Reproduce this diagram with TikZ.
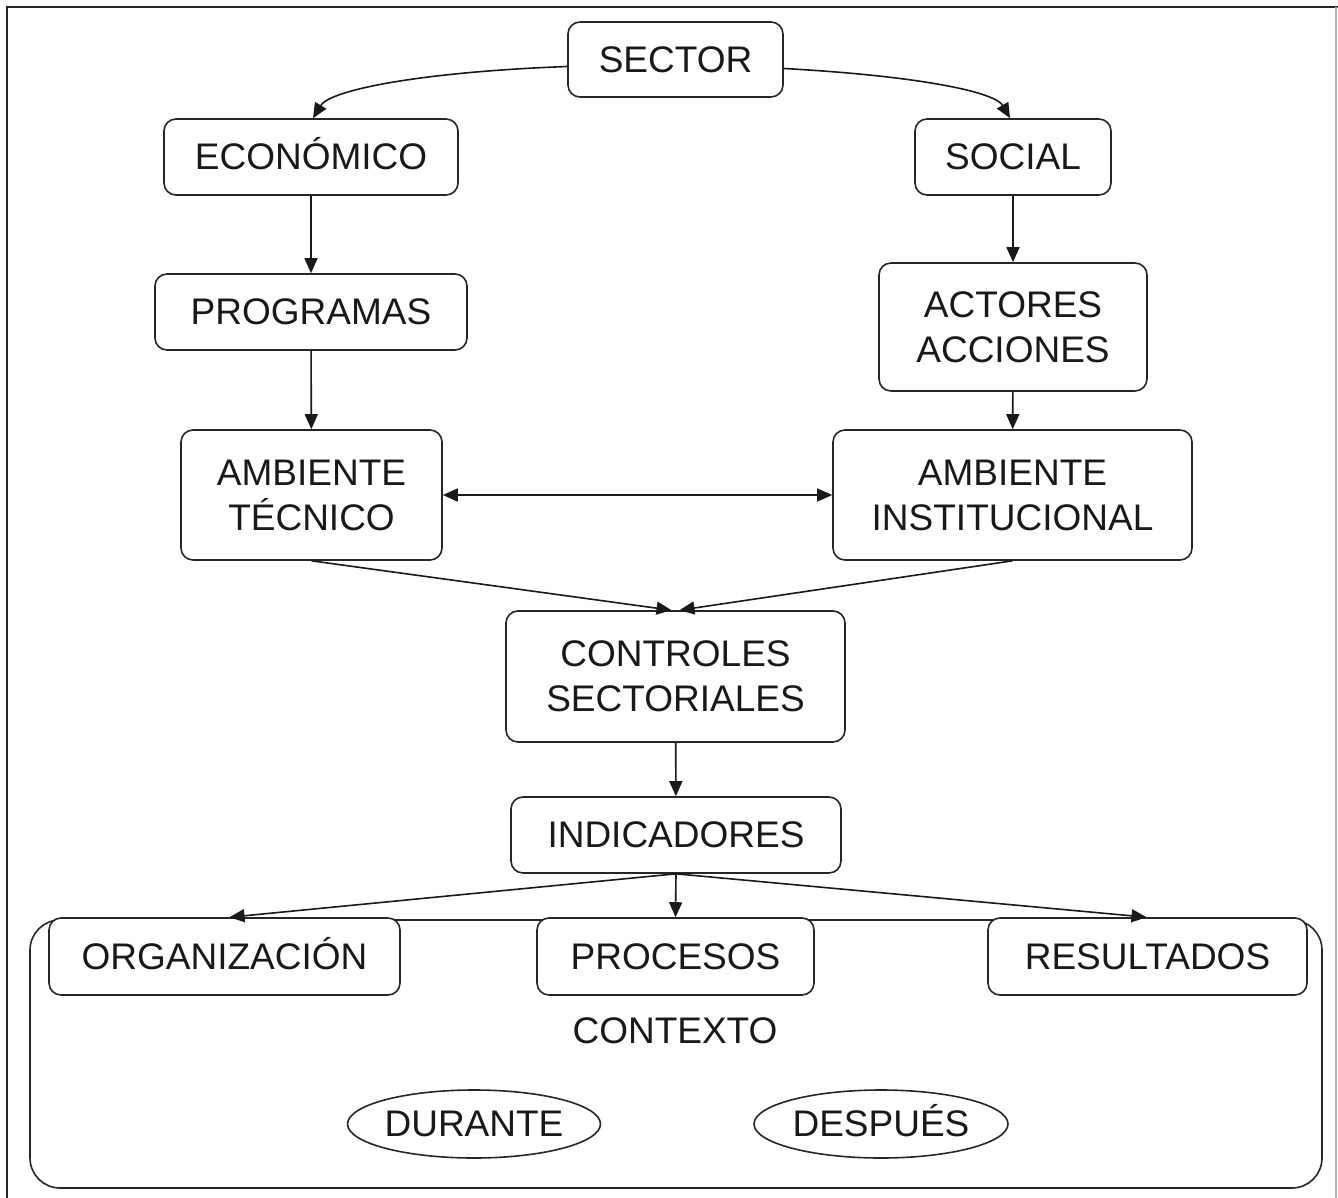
\documentclass[tikz,border=0pt]{standalone}
\usepackage{fontspec}
\setmainfont{Liberation Sans}
\usetikzlibrary{arrows.meta,shapes.geometric}
\begin{document}
\begin{tikzpicture}[x=1pt,y=-1pt,
  txt/.style={font=\fontsize{37}{45}\selectfont, text=black!90, align=center},
  box/.style={txt, draw=black!85, line width=1.6pt, rounded corners=12pt, fill=white, inner sep=0pt},
  ell/.style={txt, draw=black!85, ellipse, line width=1.6pt, fill=white, inner sep=0pt},
  arr/.style={draw=black!90, line width=1.6pt, -{Triangle[length=15pt,width=13pt]}},
  darr/.style={draw=black!90, line width=1.6pt, {Triangle[length=15pt,width=13pt]}-{Triangle[length=15pt,width=13pt]}}]
\useasboundingbox (0,0) rectangle (1338,1198);
% frame
\draw[line width=1.6pt, black!85] (7,1198) -- (7,7) -- (1338,7);
\draw[line width=1.4pt, black!30] (1336,7) -- (1336,1198);
% context box
\node[draw=black!85, line width=1.6pt, rounded corners=30pt, minimum width=1292pt, minimum height=268pt, inner sep=0pt] (ctx) at (676,1054) {};
\node[txt] (ctxlabel) at (675,1031) {CONTEXTO};
% nodes
\node[box, minimum width=215pt, minimum height=75pt] (sector) at (675.5,59.5) {SECTOR};
\node[box, minimum width=294pt, minimum height=76pt] (econ) at (311,157) {ECON\smash{Ó}MICO};
\node[box, minimum width=196pt, minimum height=76pt] (social) at (1013,157) {SOCIAL};
\node[box, minimum width=312pt, minimum height=76pt] (prog) at (311,312) {PROGRAMAS};
\node[box, minimum width=268pt, minimum height=128pt] (actor) at (1013,327) {ACTORES\\ACCIONES};
\node[box, minimum width=261pt, minimum height=130pt] (tec) at (311.5,495) {AMBIENTE\\TÉCNICO};
\node[box, minimum width=359pt, minimum height=130pt] (inst) at (1012.5,495) {AMBIENTE\\INSTITUCIONAL};
\node[box, minimum width=339pt, minimum height=131pt] (ctrl) at (675.5,676.5) {CONTROLES\\SECTORIALES};
\node[box, minimum width=330pt, minimum height=76pt] (ind) at (676,835) {INDICADORES};
\node[box, minimum width=351pt, minimum height=77pt] (org) at (224.5,956.5) {ORGANIZACI\smash{Ó}N};
\node[box, minimum width=277pt, minimum height=77pt] (proc) at (675.5,956.5) {PROCESOS};
\node[box, minimum width=319pt, minimum height=77pt] (res) at (1147.5,956.5) {RESULTADOS};
\node[ell, minimum width=252pt, minimum height=68pt] (dur) at (474,1124) {DURANTE};
\node[ell, minimum width=254pt, minimum height=68pt] (desp) at (881,1124) {DESPU\smash{É}S};
% connectors
\draw[arr] ([yshift=-7pt]sector.west) .. controls (420,72) and (330,90) .. ([xshift=2pt]econ.north);
\draw[arr] ([yshift=-9pt]sector.east) .. controls (920,76) and (995,92) .. ([xshift=-3pt]social.north);
\draw[arr] (econ) -- (prog);
\draw[arr] (prog) -- (tec);
\draw[arr] (social) -- (actor);
\draw[arr] (actor) -- (inst);
\draw[darr] (tec.east) -- (inst.west);
\draw[arr] (tec.south) -- ([xshift=-4pt]ctrl.north);
\draw[arr] (inst.south) -- ([xshift=4pt]ctrl.north);
\draw[arr] (ctrl) -- (ind);
\draw[arr] (ind.south) -- ([xshift=5pt]org.north);
\draw[arr] (ind.south) -- (proc.north);
\draw[arr] (ind.south) -- ([xshift=-1pt]res.north);
\end{tikzpicture}
\end{document}
